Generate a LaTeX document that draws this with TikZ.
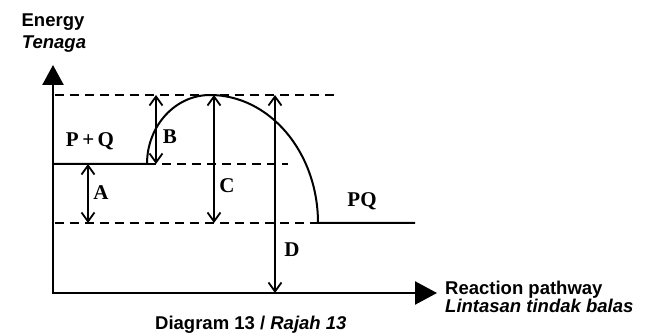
\documentclass[tikz,border=0pt]{standalone}
\usepackage{fontspec}
\setmainfont{Liberation Serif}
\setsansfont{Liberation Sans}
\usetikzlibrary{arrows.meta}
\tikzset{
  axisline/.style={line width=2.4pt},
  curveline/.style={line width=2pt},
  dashline/.style={line width=1.8pt, dash pattern=on 9pt off 6pt},
  dimarrow/.style={line width=1.8pt, {Straight Barb[length=9pt,width=13pt]}-{Straight Barb[length=9pt,width=13pt]}},
  lbl/.style={font=\fontsize{21}{24}\selectfont\bfseries\rmfamily, inner sep=0pt},
  stxt/.style={font=\fontsize{18.5}{21}\selectfont\bfseries\sffamily, inner sep=0pt, anchor=base},
  stxti/.style={font=\fontsize{18.5}{21}\selectfont\bfseries\itshape\sffamily, inner sep=0pt, anchor=base},
}
\begin{document}
\begin{tikzpicture}[x=1pt,y=-1pt]
\useasboundingbox (0,0) rectangle (648,336);
% key coordinates
\coordinate (ytip) at (53,65);
\coordinate (orig) at (53,293);
\coordinate (xtip) at (437,293);
\coordinate (pqL) at (53,164);
\coordinate (pqR) at (147,164);
\coordinate (peak) at (210,95);
\coordinate (prL) at (318,223);
\coordinate (prR) at (415,223);
% axes
\draw[axisline, {Triangle[length=20pt,width=21pt]}-{Triangle[length=22pt,width=23pt]}] (ytip) |- (xtip);
% dashed levels
\coordinate (t1) at (55,95);  \coordinate (t2) at (335,95);
\coordinate (m2) at (288,164);
\coordinate (l1) at (55,223); \coordinate (l2) at (318,223);
\draw[dashline] (t1) -- (t2);
\draw[dashline] (pqR) -- (m2);
\draw[dashline] (l1) -- (l2);
% energy profile
\draw[curveline] (pqL) -- (pqR)
  .. controls (147,125.9) and (175.2,95) .. (peak)
  .. controls (269.6,95) and (318,152.3) .. (prL) -- (prR);
% dimension arrows
\coordinate (a1) at (88,164);  \coordinate (a2) at (88,223);
\coordinate (b1) at (156,164); \coordinate (b2) at (156,95);
\coordinate (c1) at (214,223); \coordinate (c2) at (214,95);
\coordinate (d1) at (275,95);  \coordinate (d2) at (275,293);
\draw[dimarrow] (a1) -- (a2);
\draw[dimarrow] (b1) -- (b2);
\draw[dimarrow] (c1) -- (c2);
\draw[dimarrow] (d1) -- (d2);
% labels
\node[lbl] (lA) at (101,193) {A};
\node[lbl] (lB) at (170,137) {B};
\node[lbl] (lC) at (227,186) {C};
\node[lbl] (lD) at (292,250) {D};
\node[lbl] (lPQ) at (90,141) {P\,+\,Q};
\node[lbl] (lP) at (362,201) {PQ};
\node[stxt] (energy) at (53,27) {Energy};
\node[stxti] (tenaga) at (54,49) {Tenaga};
\node[stxt, anchor=base west] (rp) at (445,295) {Reaction pathway};
\node[stxti, anchor=base west] (lt) at (445,313) {Lintasan tindak balas};
\node[stxt, anchor=base west] (cap) at (155,330) {Diagram 13 / \textit{Rajah 13}};
\end{tikzpicture}
\end{document}
